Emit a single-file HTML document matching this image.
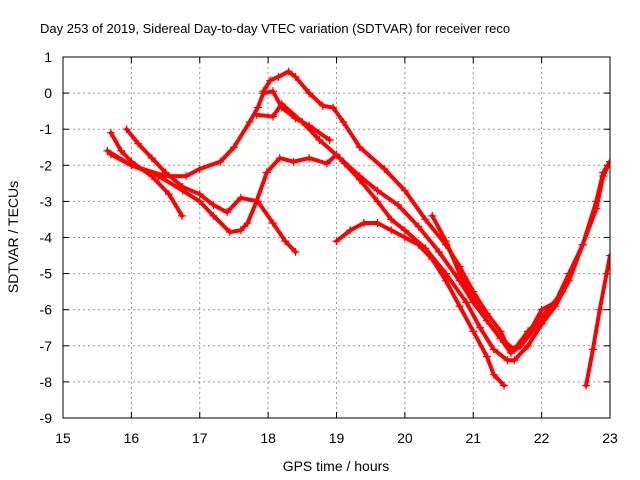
<!DOCTYPE html>
<html><head><meta charset="utf-8"><style>
html,body{margin:0;padding:0;background:#fff}
svg{display:block;font-family:"Liberation Sans",sans-serif}
</style></head><body>
<svg id="chart" width="640" height="480">
<defs><clipPath id="pc"><rect x="63" y="57" width="547" height="361"/></clipPath></defs>
<text x="40" y="33" font-size="13">Day 253 of 2019, Sidereal Day-to-day VTEC variation (SDTVAR) for receiver reco</text>
<g id="grid"></g>
<g id="axes"></g>
<g id="series" clip-path="url(#pc)"></g>
<rect x="63" y="57" width="547" height="361" fill="none" stroke="#000" stroke-width="1"/>
<text x="336" y="471" font-size="14" text-anchor="middle">GPS time / hours</text>
<text transform="translate(18,237) rotate(-90)" font-size="14" text-anchor="middle">SDTVAR / TECUs</text>
</svg>
<script>
const xTicks=[15,16,17,18,19,20,21,22,23];
const yTicks=[1,0,-1,-2,-3,-4,-5,-6,-7,-8,-9];
const track1=[[15.7,-1.1],[15.85,-1.6],[16.0,-1.9],[16.3,-2.3],[16.55,-2.8],[16.74,-3.4]];
const track2=[[15.93,-1.0],[16.1,-1.4],[16.3,-1.8],[16.5,-2.2],[16.75,-2.6],[17.0,-2.8],[17.2,-3.1],[17.4,-3.3],[17.6,-2.9],[17.85,-3.0],[18.07,-3.6],[18.25,-4.1],[18.4,-4.4]];
const track3=[[15.65,-1.6],[16.0,-2.0],[16.4,-2.3],[16.75,-2.7],[17.0,-3.0],[17.2,-3.4],[17.44,-3.85],[17.6,-3.8],[17.7,-3.6],[17.83,-3.0],[17.98,-2.2],[18.17,-1.8],[18.37,-1.9],[18.6,-1.8],[18.86,-1.95],[19.0,-1.7],[19.12,-1.95],[19.34,-2.4],[19.6,-3.0],[19.8,-3.5],[20.0,-3.8],[20.3,-4.3],[20.6,-5.0],[20.9,-5.8],[21.1,-6.5],[21.3,-7.1],[21.5,-7.4],[21.6,-7.4],[21.8,-7.0],[22.0,-6.4],[22.2,-5.9],[22.4,-5.2],[22.6,-4.2],[22.8,-3.0],[22.9,-2.2],[23.0,-1.9]];
const track4=[[15.7,-1.7],[16.0,-2.0],[16.5,-2.3],[16.8,-2.3],[17.0,-2.1],[17.3,-1.9],[17.5,-1.5],[17.73,-0.8],[17.85,-0.4],[17.93,0.0],[18.07,0.05],[18.2,-0.4],[18.4,-0.7],[18.6,-0.9],[18.9,-1.3]];
const track5=[[17.93,0.05],[18.03,0.35],[18.15,0.45],[18.3,0.6],[18.4,0.45],[18.6,0.0],[18.8,-0.35],[18.95,-0.4],[19.1,-0.8],[19.34,-1.5],[19.7,-2.1],[20.0,-2.7],[20.3,-3.5],[20.6,-4.2],[20.8,-4.8],[21.0,-5.5],[21.2,-6.1],[21.4,-6.6],[21.5,-7.0],[21.6,-7.1],[21.8,-6.6],[22.0,-6.2],[22.2,-5.8],[22.4,-5.0],[22.6,-4.2],[22.8,-3.2],[22.9,-2.3],[23.0,-1.9]];
const track6=[[17.83,-0.6],[18.07,-0.65],[18.2,-0.3],[18.5,-0.8],[18.75,-1.3],[19.05,-1.8],[19.34,-2.3],[19.6,-2.7],[19.9,-3.1],[20.2,-3.7],[20.5,-4.4],[20.8,-5.2],[21.0,-5.8],[21.2,-6.3],[21.4,-6.8],[21.55,-7.2],[21.7,-7.0],[21.9,-6.5],[22.1,-6.0],[22.3,-5.5]];
const track7=[[19.0,-4.1],[19.2,-3.8],[19.4,-3.6],[19.6,-3.6],[19.8,-3.8],[20.0,-4.0],[20.2,-4.2],[20.4,-4.6],[20.6,-5.2],[20.8,-5.9],[21.0,-6.6],[21.2,-7.3],[21.3,-7.8],[21.45,-8.1]];
const track8=[[20.4,-3.4],[20.6,-4.1],[20.8,-5.0],[21.0,-5.7],[21.2,-6.3],[21.4,-6.8],[21.6,-7.1],[21.8,-6.7],[22.0,-6.0],[22.2,-5.8]];
const track9=[[22.65,-8.1],[22.75,-7.1],[22.85,-6.0],[22.95,-5.0],[23.0,-4.5]];
const tracks=[track1,track2,track3,track4,track5,track6,track7,track8,track9];

const NS="http://www.w3.org/2000/svg";
const X0=63,X1=610,Y0=418,Y1=57;
function sx(v){return X0+(v-15)/(23-15)*(X1-X0);}
function sy(v){return Y0-(v-(-9))/(1-(-9))*(Y0-Y1);}
function mk(tag,attrs,parent){const e=document.createElementNS(NS,tag);for(const k in attrs)e.setAttribute(k,attrs[k]);parent.appendChild(e);return e;}
const grid=document.getElementById('grid'),axes=document.getElementById('axes'),ser=document.getElementById('series');
xTicks.forEach(t=>{
  const x=sx(t);
  if(t>15&&t<23){const g=mk('line',{x1:x,x2:x,y1:Y1,y2:Y0,stroke:'#999','stroke-dasharray':'2,3'},grid);
  
  }
  const tk=mk('line',{x1:x,x2:x,y1:Y0,y2:Y0-6,stroke:'#000'},axes);
  
  
  const tk2=mk('line',{x1:x,x2:x,y1:Y1,y2:Y1+6,stroke:'#000'},axes);
  
  
  const l=mk('text',{x:x,y:443,'font-size':14,'text-anchor':'middle'},axes);l.textContent=t;
  
  
});
yTicks.forEach(t=>{
  const y=sy(t);
  if(t<1&&t>-9){const g=mk('line',{x1:X0,x2:X1,y1:y,y2:y,stroke:'#999','stroke-dasharray':'2,3'},grid);
  
  }
  const tk=mk('line',{x1:X0,x2:X0+6,y1:y,y2:y,stroke:'#000'},axes);
  
  
  const tk2=mk('line',{x1:X1,x2:X1-6,y1:y,y2:y,stroke:'#000'},axes);
  
  
  const l=mk('text',{x:52,y:y+5,'font-size':14,'text-anchor':'end'},axes);l.textContent=t;
  
  
});
tracks.forEach((tr,i)=>{
  const g=mk('g',{},ser);
  
  
  const pts=tr.map(p=>sx(p[0])+','+sy(p[1])).join(' ');
  const pl=mk('polyline',{points:pts,fill:'none',stroke:'#f00','stroke-width':4,'stroke-linejoin':'round','stroke-linecap':'round'},g);
  
  
  tr.forEach(p=>{
    const x=sx(p[0]),y=sy(p[1]);
    const m=mk('path',{d:`M${x-4},${y}H${x+4}M${x},${y-4}V${y+4}`,stroke:'#f00','stroke-width':1.2},g);
    
    
  });
});
</script>
</body></html>
